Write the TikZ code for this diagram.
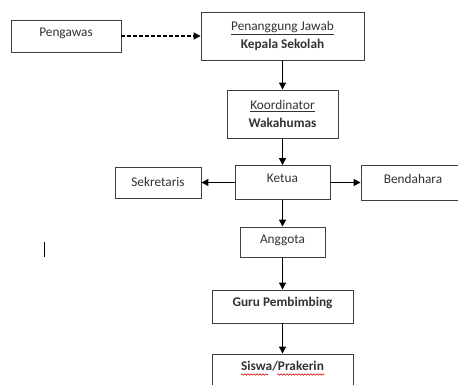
\documentclass[tikz,border=0pt]{standalone}
\usepackage{fontspec}
\setmainfont{Carlito}
\usepackage{tikz}
\usetikzlibrary{arrows.meta,decorations.pathmorphing}

\newcommand{\naik}[2]{\raisebox{#1}[\height][\depth]{#2}}

\begin{document}
\begin{tikzpicture}[x=1pt,y=-1pt,
  box/.style={draw=black!75,line width=0.9pt,fill=white,inner sep=0pt,align=center,
    text=black!80,font=\fontsize{13.3}{16}\selectfont},
  arr/.style={line width=1.3pt,-{Triangle[length=7pt,width=7pt]}},
  wavy/.style={red!85!black,line width=0.6pt,decorate,decoration={snake,amplitude=0.7pt,segment length=3pt}}]

\clip (0,0) rectangle (458,385);
\fill[white] (0,0) rectangle (458,385);

\node[box,minimum width=110,minimum height=32] (pengawas) at (66,36) {\naik{3pt}{Pengawas}};
\node[box,minimum width=163,minimum height=48] (kepsek) at (282.5,36)
  {\underline{Penanggung Jawab}\\[1.5pt]\textbf{Kepala Sekolah}};
\node[box,minimum width=111,minimum height=48] (koord) at (282.5,114)
  {\underline{Koordinator}\\[1.5pt]\textbf{Wakahumas}};
\node[box,minimum width=95,minimum height=34] (ketua) at (282.5,182.5) {\naik{4pt}{Ketua}};
\node[box,minimum width=86,minimum height=31] (sekretaris) at (158,182.5) {\naik{1pt}{Sekretaris}};
\node[box,minimum width=104,minimum height=35] (bendahara) at (413,182.5) {\naik{4pt}{Bendahara}};
\node[box,minimum width=85,minimum height=30] (anggota) at (282.5,242) {\naik{2pt}{Anggota}};
\node[box,minimum width=141,minimum height=33] (guru) at (282.5,306.5) {\naik{4pt}{\textbf{Guru Pembimbing}}};
\node[box,minimum width=141,minimum height=33] (siswa) at (282.5,370.5) {\naik{4pt}{\textbf{Siswa/Prakerin}}};

% garis bawah ejaan
\draw[wavy] (241,374.5) -- (268,374.5);
\draw[wavy] (277,374.5) -- (324,374.5);

\draw[arr,dash pattern=on 4pt off 2pt] (pengawas) -- (kepsek);
\draw[arr] (kepsek) -- (koord);
\draw[arr] (koord) -- (ketua);
\draw[arr] (ketua) -- (sekretaris);
\draw[arr] (ketua) -- (bendahara);
\draw[arr] (ketua) -- (anggota);
\draw[arr] (anggota) -- (guru);
\draw[arr] (guru) -- (siswa);

\draw[line width=0.8pt] (44,242) -- (44,257);
\end{tikzpicture}
\end{document}
